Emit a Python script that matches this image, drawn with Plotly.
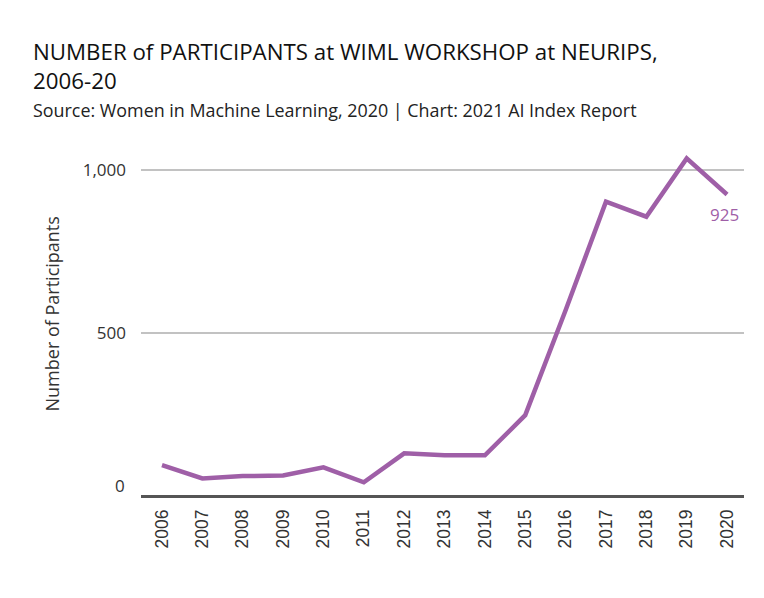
import plotly.graph_objects as go

years = [2006, 2007, 2008, 2009, 2010, 2011, 2012, 2013,
         2014, 2015, 2016, 2017, 2018, 2019, 2020]
participants = [95, 54, 61, 63, 88, 42, 131, 125, 125, 248, 570, 903, 857, 1036, 925]

y_tickvals = [0, 500, 1000]
y_ticktext = ["0", "500", "1,000"]

title_text = "NUMBER of PARTICIPANTS at WIML WORKSHOP at NEURIPS,<br>2006-20"
subtitle_text = "Source: Women in Machine Learning, 2020 | Chart: 2021 AI Index Report"
y_title = "Number of Participants"
line_color = "#9f5fa7"
font_main = "'Open Sans', Lato, sans-serif"
tick_font = dict(family=font_main, size=17, color="#333333")

fig = go.Figure()
fig.add_trace(go.Scatter(
    x=years, y=participants, mode="lines",
    line=dict(color=line_color, width=4.5, shape="linear"),
    hoverinfo="x+y", showlegend=False,
))

fig.add_annotation(
    x=years[-1], y=participants[-1], text=str(participants[-1]),
    showarrow=False, xanchor="center", yanchor="top", yshift=-6, xshift=-3,
    font=dict(family=font_main, size=17, color=line_color),
)

# zero tick label drawn slightly above the baseline, as in the reference
fig.add_annotation(
    xref="paper", yref="y", x=0, y=y_tickvals[0], text=y_ticktext[0],
    showarrow=False, xanchor="right", yanchor="middle", xshift=-14, yshift=11,
    font=tick_font,
)

# y-axis title
fig.add_annotation(
    xref="paper", yref="paper", x=-0.1476, y=0.52, text=y_title, textangle=-90,
    showarrow=False, xanchor="center", yanchor="middle",
    font=dict(family=font_main, size=18, color="#333333"),
)

fig.add_annotation(
    xref="paper", yref="paper", x=-0.183, y=1.225, xanchor="left", yanchor="middle",
    text=title_text, showarrow=False, align="left",
    font=dict(family=font_main, size=22.3, color="#111111"),
)
fig.add_annotation(
    xref="paper", yref="paper", x=-0.183, y=1.0997, xanchor="left", yanchor="middle",
    text=subtitle_text, showarrow=False, align="left",
    font=dict(family=font_main, size=17.9, color="#222222"),
)

fig.update_layout(
    width=764, height=598,
    margin=dict(l=133, r=28, t=137, b=110),
    plot_bgcolor="white", paper_bgcolor="white",
    font=dict(family=font_main, color="#333333"),
    xaxis=dict(
        range=[2005.48, 2020.42], tickmode="array", tickvals=years,
        ticktext=[str(y) for y in years],
        tickangle=-90, showgrid=False, zeroline=False,
        showline=False, ticks="",
        tickfont=dict(family="'Liberation Sans', Arial, sans-serif", size=17.5, color="#333333"),
        ticklabelstandoff=9,
    ),
    yaxis=dict(
        range=[0, 1077], tickmode="array", tickvals=y_tickvals,
        ticktext=[""] + y_ticktext[1:],
        showgrid=True, gridcolor="#c2c2c2", gridwidth=1.5,
        zeroline=True, zerolinecolor="#555555", zerolinewidth=2.5,
        showline=False, ticks="",
        tickfont=tick_font,
        ticklabelstandoff=14,
    ),
)

fig.write_html("out.html")
